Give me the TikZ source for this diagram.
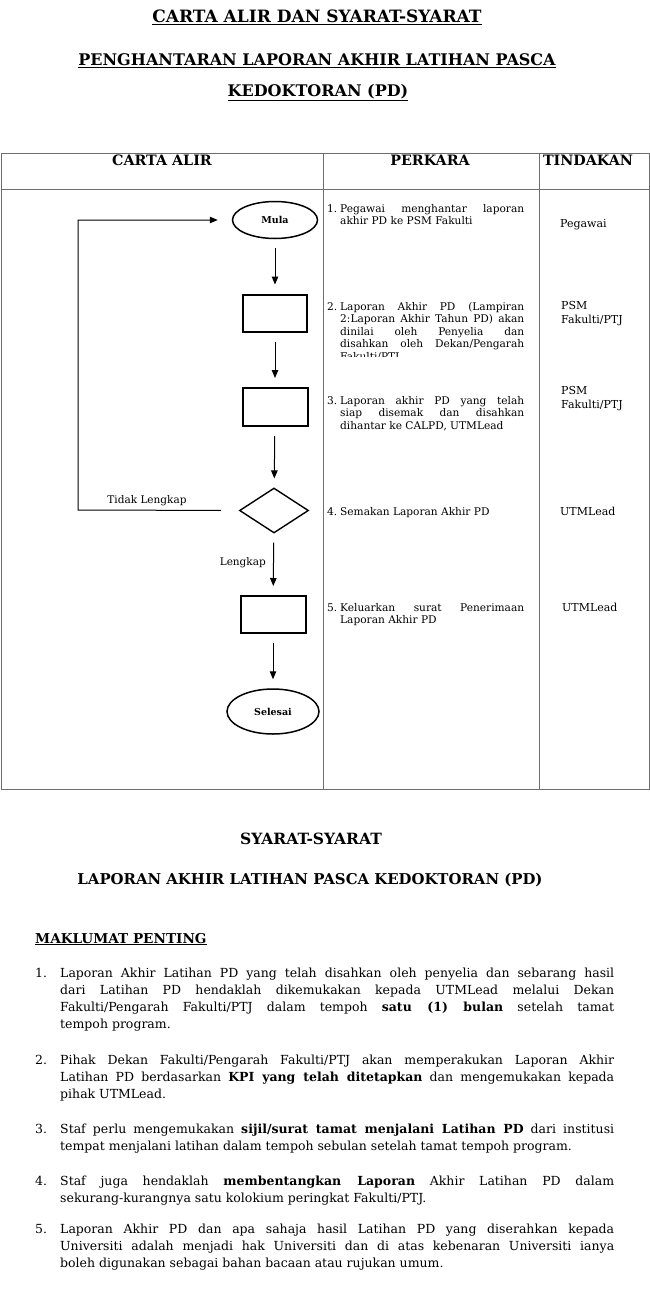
\documentclass[tikz,border=0pt]{standalone}
\usepackage{fontspec}
\setmainfont{DejaVu Serif}
\usetikzlibrary{arrows.meta,shapes.geometric}
\definecolor{ink}{HTML}{000000}
\definecolor{rulec}{HTML}{6E6E6E}
\tikzset{
  ttl/.style={font=\fontsize{#1}{#1}\selectfont\bfseries,inner sep=0pt,anchor=base,text=ink},
  ttl/.default=17,
  hdr/.style={font=\fontsize{14.3}{16}\selectfont\bfseries,inner sep=0pt,text=ink},
  num/.style={font=\fontsize{12.5}{17}\selectfont,inner sep=0pt,anchor=base west,text=ink},
  para/.style={num,text width=554pt,align=justify},
  cnum/.style={font=\fontsize{10.6}{12.5}\selectfont,inner sep=0pt,anchor=base west,text=ink},
  cell/.style={cnum,text width=184pt,align=justify},
  who/.style={font=\fontsize{11}{14}\selectfont,inner sep=0pt,anchor=base west,text width=80pt,
    align=left,text=ink},
  term/.style={ellipse,draw=ink,line width=1.5pt,inner sep=0pt,minimum width=#1,
    font=\fontsize{9.5}{11}\selectfont\bfseries},
  term/.default=85pt,
  proc/.style={rectangle,draw=ink,line width=2pt,minimum width=64pt,minimum height=37pt},
  chk/.style={diamond,draw=ink,line width=1.4pt,minimum width=69pt,minimum height=45pt,inner sep=0pt},
  lbl/.style={font=\fontsize{10.5}{12}\selectfont,inner sep=0pt,text=ink},
  arr/.style={-{Triangle[length=8pt,width=6.5pt]},line width=1pt,draw=ink,shorten <=9pt,shorten >=9pt},
  tabrule/.style={draw=rulec,line width=1pt},
}
\begin{document}
\begin{tikzpicture}[x=1pt,y=-1pt]
  \useasboundingbox (0,0) rectangle (650,1306);

  \node[ttl] (t1) at (317,23) {\underline{CARTA ALIR DAN SYARAT-SYARAT}};
  \node[ttl=16] (t2) at (317,66) {\underline{PENGHANTARAN LAPORAN AKHIR LATIHAN PASCA}};
  \node[ttl=16] (t3) at (318,96) {\underline{KEDOKTORAN (PD)}};

  \draw[tabrule] (1,153) rectangle (649,789);
  \draw[tabrule] (1,189) -- (649,189);
  \draw[tabrule] (323,153) -- (323,789);
  \draw[tabrule] (539,153) -- (539,789);
  \node[hdr] (h1) at (162,160) {CARTA ALIR};
  \node[hdr] (h2) at (430,160) {PERKARA};
  \node[hdr] (h3) at (588,160) {TINDAKAN};

  \node[term] (mula) at (275,220) [minimum height=37pt] {Mula};
  \node[proc] (b1) at (275,313) {};
  \node[proc,minimum width=65pt,minimum height=38pt] (b2) at (275,407) {};
  \node[chk] (dec) at (274,510.5) {};
  \node[proc,minimum width=65pt] (b3) at (273,614.5) {};
  \node[term=92pt] (sel) at (273,711.5) [minimum height=45pt] {Selesai};
  \coordinate (lp) at (78,510);

  \draw[arr] (mula) -- (b1);
  \draw[arr] (b1) -- (b2);
  \draw[arr] (b2) -- (dec);
  \draw[arr] (dec) -- (b3);
  \draw[arr] (b3) -- (sel);
  \draw[arr,shorten <=18pt,shorten >=14pt] (dec.west) -- (lp) |- (mula.west);
  \node[lbl,anchor=base] (nok) at (147,503) {Tidak Lengkap};
  \node[lbl,anchor=base east] (ok) at (266,565) {Lengkap};

  \node[cnum] (p1n) at (327,212) {1.};
  \node[cell] (p1) at (340,212) {Pegawai menghantar laporan\linebreak akhir PD ke PSM Fakulti};
  \begin{scope}
    \clip (325,292) rectangle (537,356);
    \node[cnum] (p2n) at (327,310) {2.};
    \node[cell] (p2) at (340,310) {Laporan Akhir PD (Lampiran\linebreak 2:Laporan Akhir Tahun PD) akan\linebreak
      dinilai oleh Penyelia dan\linebreak disahkan oleh Dekan/Pengarah\linebreak Fakulti/PTJ};
  \end{scope}
  \node[cnum] (p3n) at (327,404) {3.};
  \node[cell] (p3) at (340,404) {Laporan akhir PD yang telah\linebreak siap disemak dan disahkan\linebreak
    dihantar ke CALPD, UTMLead};
  \node[cnum] (p4n) at (327,515) {4.};
  \node[cell] (p4) at (340,515) {Semakan Laporan Akhir PD};
  \node[cnum] (p5n) at (327,611) {5.};
  \node[cell] (p5) at (340,611) {Keluarkan surat Penerimaan\linebreak Laporan Akhir PD};

  \node[who] (w1) at (560,227) {Pegawai};
  \node[who] (w2) at (561,309) {PSM\\Fakulti/PTJ};
  \node[who] (w3) at (561,394) {PSM\\Fakulti/PTJ};
  \node[who] (w4) at (560,515) {UTMLead};
  \node[who] (w5) at (562,611) {UTMLead};

  \node[ttl=15.5] (s1) at (311,844) {SYARAT-SYARAT};
  \node[ttl=14.9] (s2) at (310,884) {LAPORAN AKHIR LATIHAN PASCA KEDOKTORAN (PD)};
  \node[ttl=13.6,anchor=base west] (s3) at (35,943) {\underline{MAKLUMAT PENTING}};

  \node[num] (n1) at (35,977) {1.};
  \node[para] (q1) at (60,977) {Laporan Akhir Latihan PD yang telah disahkan oleh penyelia dan sebarang hasil\linebreak
    dari Latihan PD hendaklah dikemukakan kepada UTMLead melalui Dekan\linebreak
    Fakulti/Pengarah Fakulti/PTJ dalam tempoh \textbf{satu (1) bulan} setelah tamat\linebreak tempoh program.};
  \node[num] (n2) at (35,1064) {2.};
  \node[para] (q2) at (60,1064) {Pihak Dekan Fakulti/Pengarah Fakulti/PTJ akan memperakukan Laporan Akhir\linebreak
    Latihan PD berdasarkan \textbf{KPI yang telah ditetapkan} dan mengemukakan kepada\linebreak pihak UTMLead.};
  \node[num] (n3) at (35,1133) {3.};
  \node[para] (q3) at (60,1133) {Staf perlu mengemukakan \textbf{sijil/surat tamat menjalani Latihan PD} dari institusi\linebreak
    tempat menjalani latihan dalam tempoh sebulan setelah tamat tempoh program.};
  \node[num] (n4) at (35,1185) {4.};
  \node[para] (q4) at (60,1185) {Staf juga hendaklah \textbf{membentangkan Laporan} Akhir Latihan PD dalam\linebreak
    sekurang-kurangnya satu kolokium peringkat Fakulti/PTJ.};
  \node[num] (n5) at (35,1233) {5.};
  \node[para] (q5) at (60,1233) {Laporan Akhir PD dan apa sahaja hasil Latihan PD yang diserahkan kepada\linebreak
    Universiti adalah menjadi hak Universiti dan di atas kebenaran Universiti ianya\linebreak
    boleh digunakan sebagai bahan bacaan atau rujukan umum.};
\end{tikzpicture}
\end{document}
